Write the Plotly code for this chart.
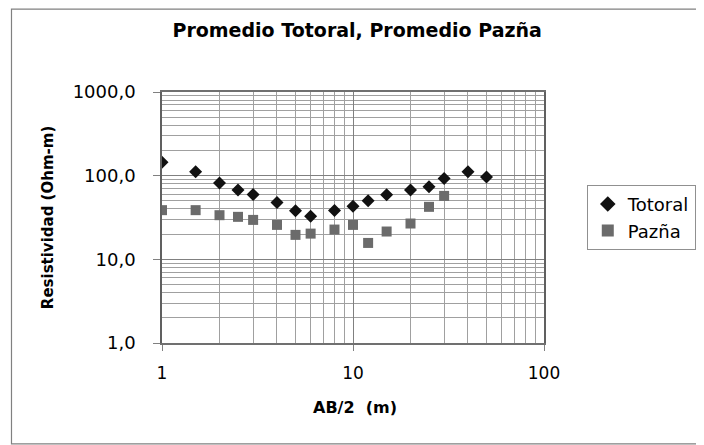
import plotly.graph_objects as go

# AB/2 spacing (m)
ab2_totoral = [1, 1.5, 2, 2.5, 3, 4, 5, 6, 8, 10, 12, 15, 20, 25, 30, 40, 50]
rho_totoral = [145, 111, 82, 67.6, 59.4, 47.7, 38, 32.8, 38.3, 43.2, 50, 59, 67.6, 73.5, 92.2, 111, 96.7]

ab2_pazna = [1, 1.5, 2, 2.5, 3, 4, 5, 6, 8, 10, 12, 15, 20, 25, 30]
rho_pazna = [38.7, 38.7, 33.7, 32.2, 29.6, 25.8, 19.6, 20.3, 22.7, 25.8, 15.7, 21.5, 26.8, 42.4, 57.3]

y_ticks = [1, 10, 100, 1000]
x_ticks = [1, 10, 100]
x_tick_labels = ['1', '10', '100']

FONT = 'DejaVu Sans, Arial, sans-serif'

fig = go.Figure()

fig.add_trace(go.Scatter(
    x=ab2_totoral, y=rho_totoral,
    mode='markers', name='Totoral',
    marker=dict(symbol='diamond', size=10, color='#111111'),
))

fig.add_trace(go.Scatter(
    x=ab2_pazna, y=rho_pazna,
    mode='markers', name='Pazña',
    marker=dict(symbol='square', size=10, color='#6b6b6b'),
))

# outer chart border
fig.add_shape(type='rect', xref='paper', yref='paper',
              x0=-0.394, x1=1.406, y0=-0.402, y1=1.33,
              line=dict(color='#808080', width=1.2))

fig.add_annotation(text='Resistividad (Ohm-m)', xref='paper', yref='paper',
                   x=-0.298, y=0.498, xanchor='center', yanchor='middle',
                   textangle=-90, showarrow=False,
                   font=dict(family=FONT, size=15, color='black', weight='bold'))
fig.add_annotation(text='AB/2  (m)', xref='paper', yref='paper',
                   x=0.505, y=-0.255, xanchor='center', yanchor='middle',
                   showarrow=False,
                   font=dict(family=FONT, size=16, color='black', weight='bold'))

# the page body adds an 8px offset, so margins are pulled in by 8px
fig.update_layout(
    width=704, height=445,
    margin=dict(l=154, r=168, t=84, b=110),
    paper_bgcolor='white', plot_bgcolor='white',
    separators=',.',
    font=dict(family=FONT, color='black'),
    title=dict(text='<b>Promedio Totoral, Promedio Pazña</b>',
               x=0.496, y=0.9506, xanchor='center', yanchor='middle',
               font=dict(family=FONT, size=19, color='black')),
    showlegend=True,
    legend=dict(x=1.112, y=0.63, xanchor='left', yanchor='top',
                bordercolor='#909090', borderwidth=1,
                font=dict(family=FONT, size=18, color='black'),
                itemsizing='constant', tracegroupgap=6),
    xaxis=dict(type='log', range=[0, 2], tickvals=x_ticks, ticktext=x_tick_labels,
               showgrid=True, gridcolor='#808080', gridwidth=1,
               minor=dict(dtick='D1', showgrid=True, gridcolor='#a0a0a0', gridwidth=1),
               showline=True, linecolor='#707070', linewidth=1.5, mirror=True,
               ticks='outside', ticklen=6, tickcolor='#808080',
               ticklabelstandoff=8,
               tickfont=dict(family=FONT, size=17, color='black'), zeroline=False),
    yaxis=dict(type='log', range=[0, 3], tickvals=y_ticks, tickformat='.1f',
               showgrid=True, gridcolor='#808080', gridwidth=1,
               minor=dict(dtick='D1', showgrid=True, gridcolor='#a0a0a0', gridwidth=1),
               showline=True, linecolor='#606060', linewidth=1.5, mirror=True,
               ticks='outside', ticklen=7, tickcolor='#808080',
               ticklabelstandoff=14,
               tickfont=dict(family=FONT, size=18, color='black'), zeroline=False),
)

fig.write_html('out.html')
